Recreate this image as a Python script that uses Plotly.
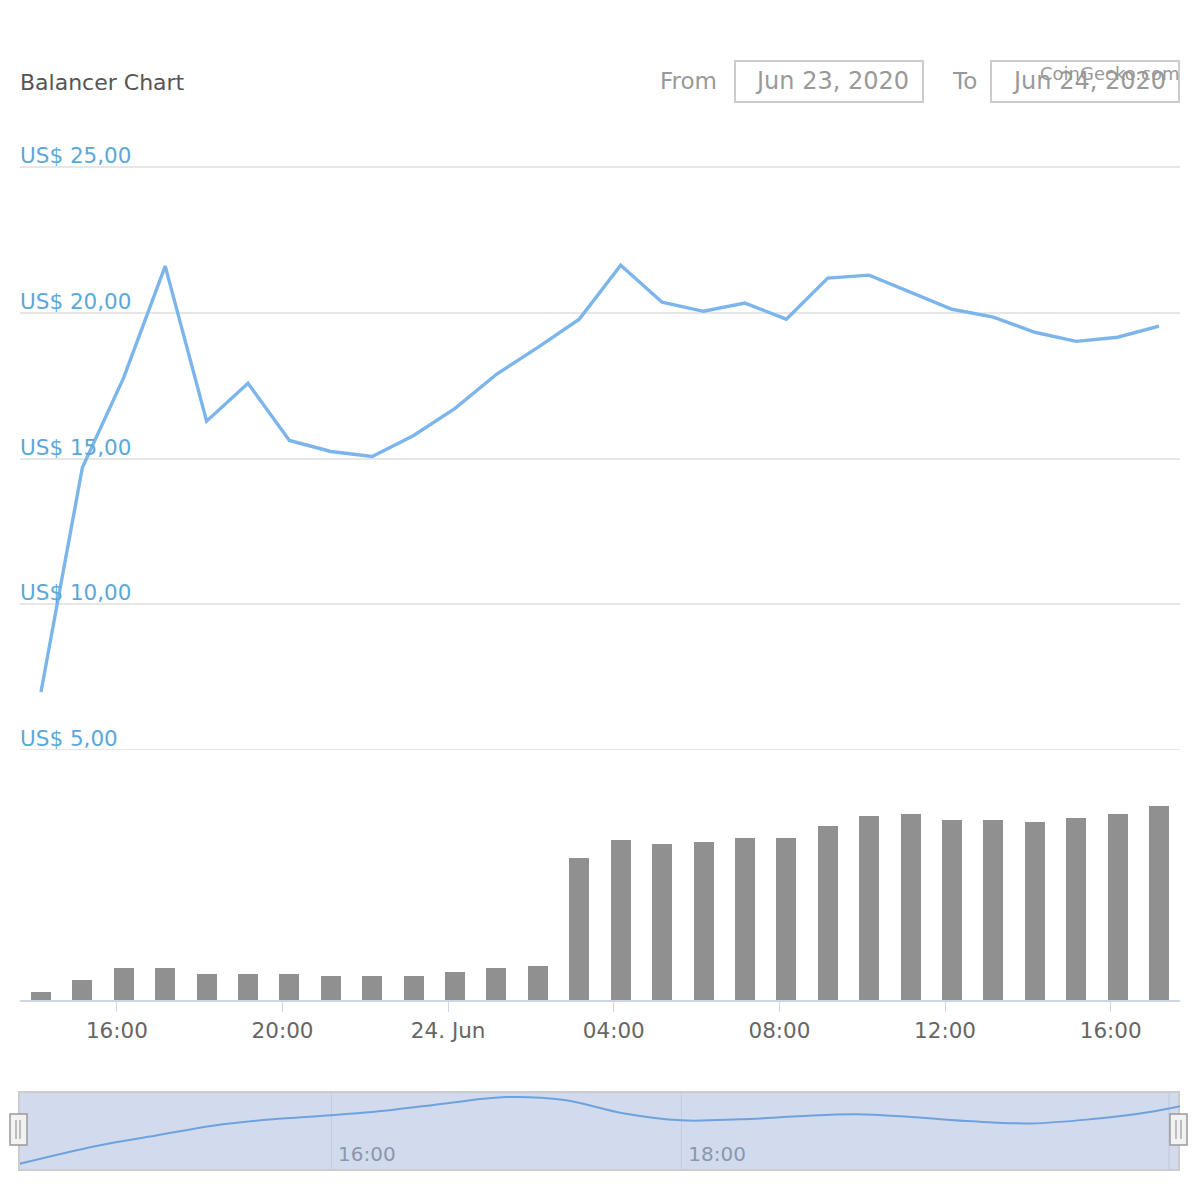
import plotly.graph_objects as go

# ---------------- data ----------------
times = [
    "2020-06-23 14:10", "2020-06-23 15:10", "2020-06-23 16:10", "2020-06-23 17:10",
    "2020-06-23 18:10", "2020-06-23 19:10", "2020-06-23 20:10", "2020-06-23 21:10",
    "2020-06-23 22:10", "2020-06-23 23:10", "2020-06-24 00:10", "2020-06-24 01:10",
    "2020-06-24 02:10", "2020-06-24 03:10", "2020-06-24 04:10", "2020-06-24 05:10",
    "2020-06-24 06:10", "2020-06-24 07:10", "2020-06-24 08:10", "2020-06-24 09:10",
    "2020-06-24 10:10", "2020-06-24 11:10", "2020-06-24 12:10", "2020-06-24 13:10",
    "2020-06-24 14:10", "2020-06-24 15:10", "2020-06-24 16:10", "2020-06-24 17:10",
]
price = [
    6.99, 14.69, 17.78, 21.60, 16.28, 17.58, 15.62, 15.24, 15.07, 15.79,
    16.72, 17.89, 18.81, 19.78, 21.63, 20.36, 20.05, 20.33, 19.78, 21.19,
    21.29, 20.70, 20.12, 19.85, 19.33, 19.02, 19.16, 19.54,
]
volume = [
    0.40, 1.00, 1.60, 1.60, 1.30, 1.30, 1.30, 1.20, 1.20, 1.20,
    1.40, 1.60, 1.70, 7.10, 8.00, 7.80, 7.90, 8.10, 8.10, 8.70,
    9.20, 9.30, 9.00, 9.00, 8.90, 9.10, 9.30, 9.70,
]
price_tickvals = [5, 10, 15, 20, 25]
price_ticktext = ["US$ 5,00", "US$ 10,00", "US$ 15,00", "US$ 20,00", "US$ 25,00"]

x_tickvals = ["2020-06-23 16:00", "2020-06-23 20:00", "2020-06-24 00:00", "2020-06-24 04:00",
              "2020-06-24 08:00", "2020-06-24 12:00", "2020-06-24 16:00"]
x_ticktext = ["16:00", "20:00", "24. Jun", "04:00", "08:00", "12:00", "16:00"]

nav_times = [
    "2020-06-23 14:13", "2020-06-23 14:40", "2020-06-23 15:00", "2020-06-23 15:20",
    "2020-06-23 15:40", "2020-06-23 16:00", "2020-06-23 16:20", "2020-06-23 16:40",
    "2020-06-23 17:00", "2020-06-23 17:20", "2020-06-23 17:40", "2020-06-23 18:00",
    "2020-06-23 18:20", "2020-06-23 18:40", "2020-06-23 19:00", "2020-06-23 19:20",
    "2020-06-23 19:40", "2020-06-23 20:00", "2020-06-23 20:20", "2020-06-23 20:40",
    "2020-06-23 20:51",
]
nav_values = [
    6.4, 10.0, 12.0, 14.0, 15.2, 16.0, 17.0, 18.4, 19.6, 19.0,
    16.4, 15.0, 15.2, 15.8, 16.2, 15.6, 14.8, 14.4, 15.2, 16.6, 17.8,
]
nav_tickvals = ["2020-06-23 16:00", "2020-06-23 18:00"]
nav_ticktext = ["16:00", "18:00"]

title_text = "Balancer Chart"
from_label, to_label = "From", "To"
from_date, to_date = "Jun 23, 2020", "Jun 24, 2020"
credit_text = "CoinGecko.com"

# ---------------- layout geometry (pixels) ----------------
W, H = 1200, 1200
ML, MR, MT = 20, 20, 140
PLOT_BOTTOM = 1171
MB = H - PLOT_BOTTOM
PW = W - ML - MR
PH = PLOT_BOTTOM - MT


def px(xp):
    return (xp - ML) / PW


def py(yp):
    return (PLOT_BOTTOM - yp) / PH


FONT = "DejaVu Sans, Verdana, sans-serif"

fig = go.Figure()

fig.add_trace(go.Scatter(
    x=times, y=price, mode="lines",
    line=dict(color="#7cb5ec", width=3.4),
    xaxis="x", yaxis="y", name="Price", hoverinfo="x+y",
))
fig.add_trace(go.Bar(
    x=times, y=volume, width=1740000,
    marker=dict(color="#909090", line=dict(width=0)),
    xaxis="x", yaxis="y2", name="Volume",
))
fig.add_trace(go.Scatter(
    x=nav_times, y=nav_values, mode="lines",
    line=dict(color="#6ea2de", width=2, shape="spline", smoothing=1.0),
    xaxis="x3", yaxis="y3", name="Navigator", hoverinfo="skip",
))

# price axis mapping: 5 at y=750px, 29.15 px per unit
PX_PER_UNIT = 29.15
PRICE_BOTTOM_PX = 780
price_lo = 5 - (PRICE_BOTTOM_PX - 750) / PX_PER_UNIT
price_hi = 5 + (750 - MT) / PX_PER_UNIT

shapes = []
# navigator background mask
shapes.append(dict(type="rect", xref="paper", yref="paper",
                   x0=px(19), x1=px(1179), y0=py(1170), y1=py(1092),
                   fillcolor="#d1dbed", line=dict(color="#cccccc", width=2), layer="below"))
# navigator right edge line
shapes.append(dict(type="line", xref="paper", yref="paper",
                   x0=px(1169), x1=px(1169), y0=py(1170), y1=py(1092),
                   line=dict(color="#c3cde0", width=1.5), layer="below"))
# navigator handles
for hx0, hx1, g1, g2 in [(10, 27, 16, 20), (1170, 1187, 1176, 1181)]:
    shapes.append(dict(type="rect", xref="paper", yref="paper",
                       x0=px(hx0), x1=px(hx1), y0=py(1145), y1=py(1114),
                       fillcolor="#f2f2f2", line=dict(color="#999999", width=1.5), layer="above"))
    for gx in (g1, g2):
        shapes.append(dict(type="line", xref="paper", yref="paper",
                           x0=px(gx), x1=px(gx), y0=py(1139), y1=py(1120),
                           line=dict(color="#999999", width=1.2), layer="above"))
# date input boxes
for bx0, bx1 in [(735, 923), (991, 1179)]:
    shapes.append(dict(type="rect", xref="paper", yref="paper",
                       x0=px(bx0), x1=px(bx1), y0=py(102), y1=py(61),
                       fillcolor="rgba(0,0,0,0)", line=dict(color="#cccccc", width=2), layer="above"))

annotations = [
    dict(text=title_text, x=px(18), y=py(82), xref="paper", yref="paper",
         xanchor="left", yanchor="middle", showarrow=False,
         font=dict(family=FONT, size=22, color="#555555")),
    dict(text=from_label, x=px(719), y=py(81), xref="paper", yref="paper",
         xanchor="right", yanchor="middle", showarrow=False,
         font=dict(family=FONT, size=23, color="#999999")),
    dict(text=from_date, x=px(832), y=py(81), xref="paper", yref="paper",
         xanchor="center", yanchor="middle", showarrow=False,
         font=dict(family=FONT, size=24, color="#999999")),
    dict(text=to_label, x=px(979), y=py(81), xref="paper", yref="paper",
         xanchor="right", yanchor="middle", showarrow=False,
         font=dict(family=FONT, size=23, color="#999999")),
    dict(text=to_date, x=px(1089), y=py(81), xref="paper", yref="paper",
         xanchor="center", yanchor="middle", showarrow=False,
         font=dict(family=FONT, size=24, color="#999999")),
    dict(text=credit_text, x=px(1182), y=py(73), xref="paper", yref="paper",
         xanchor="right", yanchor="middle", showarrow=False,
         font=dict(family=FONT, size=18, color="#999999")),
]
# price tick labels (Highcharts style: sitting above each grid line)
for v, t in zip(price_tickvals, price_ticktext):
    annotations.append(dict(text=t, x=0, y=v, xref="paper", yref="y",
                            xanchor="left", yanchor="bottom", yshift=-3, xshift=-2,
                            showarrow=False,
                            font=dict(family=FONT, size=21.5, color="#5aa8d8")))

fig.update_layout(
    width=W, height=H,
    margin=dict(l=ML, r=MR, t=MT, b=MB, pad=0),
    paper_bgcolor="white", plot_bgcolor="white",
    showlegend=False,
    bargap=0,
    shapes=shapes,
    annotations=annotations,
    font=dict(family=FONT),
    xaxis=dict(
        type="date", domain=[0, 1], anchor="y2",
        range=["2020-06-23 13:39:36", "2020-06-24 17:40:24"],
        tickvals=x_tickvals, ticktext=x_ticktext,
        tickfont=dict(family=FONT, size=21.5, color="#666666"),
        ticks="outside", ticklen=10, tickwidth=1.2, tickcolor="#ccd6eb",
        showline=True, linecolor="#ccd6eb", linewidth=2,
        showgrid=False, zeroline=False, fixedrange=True,
    ),
    yaxis=dict(
        domain=[py(PRICE_BOTTOM_PX), 1.0], anchor="x",
        range=[price_lo, price_hi],
        tickvals=price_tickvals,
        showticklabels=False, ticks="",
        showgrid=True, gridcolor="#e6e6e6", gridwidth=1.6,
        zeroline=False, showline=False,
    ),
    yaxis2=dict(
        domain=[py(1000), py(750)], anchor="x",
        range=[0, 12.5],
        showticklabels=False, showgrid=False, zeroline=False, showline=False, ticks="",
    ),
    xaxis3=dict(
        type="date", domain=[0, 1], anchor="y3",
        range=["2020-06-23 14:13:22", "2020-06-23 20:50:57"],
        tickvals=nav_tickvals, ticktext=nav_ticktext,
        ticklabelposition="inside right", ticklabelshift=7, ticks="",
        tickfont=dict(family=FONT, size=20, color="#8a97ad"),
        showgrid=True, gridcolor="#c3cde0", gridwidth=1.2,
        showline=False, zeroline=False,
    ),
    yaxis3=dict(
        domain=[0, py(1092)], anchor="x3",
        range=[5, 5 + (1170 - 1092) * 0.2],
        showticklabels=False, showgrid=False, zeroline=False, showline=False, ticks="",
    ),
)

fig.write_html("out.html", config={"displayModeBar": False},
               post_script="document.body.style.margin='0';document.body.style.padding='0';")
